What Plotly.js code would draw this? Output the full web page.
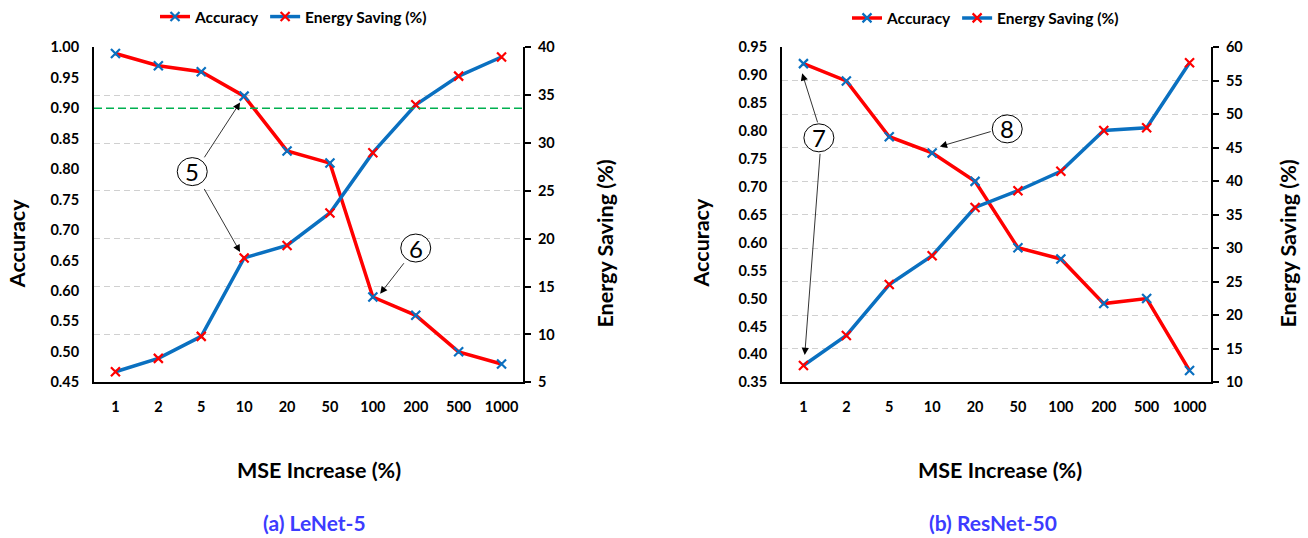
<!DOCTYPE html>
<html>
<head>
<meta charset="utf-8">
<script src="https://cdn.plot.ly/plotly-3.0.1.min.js"></script>
<style>
  html, body { margin: 0; padding: 0; background: #ffffff; }
  #chart { width: 1308px; height: 538px; }
</style>
</head>
<body>
<div id="chart"></div>
<script>
// ---- data ----
const mseIncrease = ['1', '2', '5', '10', '20', '50', '100', '200', '500', '1000'];
const lenetAccuracy = [0.99, 0.97, 0.96, 0.92, 0.83, 0.81, 0.59, 0.56, 0.50, 0.48];
const lenetEnergy = [6.1, 7.5, 9.8, 18.0, 19.3, 22.7, 29.0, 34.0, 37.0, 39.0];
const resnetAccuracy = [0.921, 0.890, 0.790, 0.761, 0.710, 0.591, 0.571, 0.491, 0.500, 0.371];
const resnetEnergy = [12.5, 17.0, 24.6, 28.9, 36.1, 38.6, 41.5, 47.6, 48.0, 57.7];
const accuracyThreshold = 0.90;
const panelNames = ['(a) LeNet-5', '(b) ResNet-50'];

// ---- styles ----
const FONT = 'Lato, "Open Sans", Arial, sans-serif';
const RED = '#ff0000';
const BLUE = '#0a70c0';
const W = 1308, H = 538;
const px = v => v / W;
const py = v => 1 - v / H;

const tickFont = {family: FONT, size: 14.5, color: '#000', weight: 'bold'};

function accTrace(x, y, xa, ya, legend, show) {
  return {
    x: x, y: y, xaxis: xa, yaxis: ya, name: 'Accuracy', legend: legend,
    type: 'scatter', mode: 'lines+markers', showlegend: show,
    line: {color: RED, width: 3.5},
    marker: {symbol: 'x-thin', size: 9, line: {color: BLUE, width: 2.2}, color: BLUE}
  };
}
function enTrace(x, y, xa, ya, legend, show) {
  return {
    x: x, y: y, xaxis: xa, yaxis: ya, name: 'Energy Saving (%)', legend: legend,
    type: 'scatter', mode: 'lines+markers', showlegend: show,
    line: {color: BLUE, width: 3.5},
    marker: {symbol: 'x-thin', size: 9, line: {color: RED, width: 2.2}, color: RED}
  };
}

const traces = [
  accTrace(mseIncrease, lenetAccuracy, 'x', 'y', 'legend', true),
  enTrace(mseIncrease, lenetEnergy, 'x', 'y2', 'legend', true),
  accTrace(mseIncrease, resnetAccuracy, 'x2', 'y3', 'legend2', true),
  enTrace(mseIncrease, resnetEnergy, 'x2', 'y4', 'legend2', true)
];

const yDom = [py(382), py(46.5)];

function xAxis(dom, anchor) {
  return {
    domain: dom, anchor: anchor, type: 'category', range: [-0.5, 9.5],
    showline: true, linecolor: '#000', linewidth: 2, ticks: '', showgrid: false,
    zeroline: false, tickfont: tickFont, ticklabelstandoff: 10, fixedrange: true
  };
}
function yLeft(anchor, range) {
  return {
    domain: yDom, anchor: anchor, range: range, dtick: 0.05, tickformat: '.2f',
    showline: true, linecolor: '#000', linewidth: 2, ticks: '', showgrid: false,
    zeroline: false, tickfont: tickFont, ticklabelstandoff: 10
  };
}
function yRight(anchor, over, range) {
  return {
    overlaying: over, side: 'right', anchor: anchor, range: range, dtick: 5,
    showline: true, linecolor: '#000', linewidth: 2,
    ticks: 'outside', ticklen: 6, tickwidth: 2, tickcolor: '#000',
    showgrid: true, gridcolor: '#d0d0d0', gridwidth: 1, griddash: '6px,4px',
    zeroline: false, tickfont: tickFont, ticklabelstandoff: 4
  };
}

const titleFont = {family: FONT, size: 21.5, color: '#000', weight: 'bold'};
const captionFont = {family: FONT, size: 21, color: '#3c3cff', weight: 'bold'};
function txt(x, y, text, font, angle) {
  return {xref: 'paper', yref: 'paper', x: x, y: y, text: text, showarrow: false,
          xanchor: 'center', yanchor: 'middle', font: font, textangle: angle || 0};
}

const annotations = [
  txt(px(16.7), py(243), 'Accuracy', titleFont, -90),
  txt(px(605), py(243), 'Energy Saving (%)', titleFont, -90),
  txt(px(701), py(243), 'Accuracy', titleFont, -90),
  txt(px(1288), py(243), 'Energy Saving (%)', titleFont, -90),
  txt(px(318.5), py(470), 'MSE Increase (%)', titleFont),
  txt(px(1000), py(470), 'MSE Increase (%)', titleFont),
  txt(px(314), py(522), panelNames[0], captionFont),
  txt(px(993), py(522), panelNames[1], captionFont)
];

// circled callouts: [xref, yref, xIdx, yVal, label]
const callouts = [
  ['x', 'y', 1.79, 0.796, '5'],
  ['x', 'y', 7.0, 0.6705, '6'],
  ['x2', 'y3', 0.36, 0.788, '7'],
  ['x2', 'y3', 4.75, 0.804, '8']
];
// arrows: [xref, yref, tipIdx, tipY, tailIdx, tailY]
const arrows = [
  ['x', 'y', 2.905, 0.9095, 2.05, 0.817],
  ['x', 'y', 2.905, 0.664, 2.05, 0.770],
  ['x', 'y', 6.17, 0.5954, 6.75, 0.648],
  ['x2', 'y3', -0.03, 0.9035, 0.34, 0.813],
  ['x2', 'y3', 0.03, 0.399, 0.39, 0.762],
  ['x2', 'y3', 3.18, 0.7725, 4.40, 0.800]
];

arrows.forEach(a => annotations.push({
  xref: a[0], yref: a[1], x: a[2], y: a[3], axref: a[0], ayref: a[1], ax: a[4], ay: a[5],
  text: '', showarrow: true, arrowhead: 2, arrowsize: 1.8, arrowwidth: 0.8, arrowcolor: '#000', standoff: 0
}));

const shapes = [
  {type: 'line', xref: 'x domain', yref: 'y', x0: 0, x1: 1, y0: accuracyThreshold, y1: accuracyThreshold,
   line: {color: '#00b050', width: 1.5, dash: '8px,4px'}}
];
callouts.forEach(c => {
  shapes.push({type: 'circle', xref: c[0], yref: c[1], xsizemode: 'pixel', ysizemode: 'pixel',
    xanchor: c[2], yanchor: c[3], x0: -15, x1: 15, y0: -14, y1: 14,
    line: {color: '#000', width: 1}, fillcolor: 'rgba(255,255,255,1)', layer: 'above'});
  annotations.push({xref: c[0], yref: c[1], x: c[2], y: c[3], text: c[4], showarrow: false,
    xanchor: 'center', yanchor: 'middle', font: {family: FONT, size: 24, color: '#000'}});
});

const legendFont = {family: FONT, size: 15.5, color: '#000', weight: 'bold'};
const layout = {
  width: W, height: H,
  margin: {l: 0, r: 0, t: 0, b: 0},
  paper_bgcolor: '#fff', plot_bgcolor: 'rgba(0,0,0,0)',
  font: {family: FONT},
  xaxis: xAxis([px(94), px(523)], 'y'),
  yaxis: yLeft('x', [0.45, 1.0]),
  yaxis2: yRight('x', 'y', [5, 40]),
  xaxis2: xAxis([px(782), px(1211)], 'y3'),
  yaxis3: yLeft('x2', [0.35, 0.95]),
  yaxis4: yRight('x2', 'y3', [10, 60]),
  legend: {orientation: 'h', x: px(155), xanchor: 'left', y: py(15.7), yanchor: 'middle',
           font: legendFont, bgcolor: 'rgba(0,0,0,0)', traceorder: 'normal'},
  legend2: {orientation: 'h', x: px(847), xanchor: 'left', y: py(18.3), yanchor: 'middle',
            font: legendFont, bgcolor: 'rgba(0,0,0,0)', traceorder: 'normal'},
  annotations: annotations,
  shapes: shapes,
  showlegend: true
};

Plotly.newPlot('chart', traces, layout, {displayModeBar: false, staticPlot: true});
</script>
</body>
</html>
